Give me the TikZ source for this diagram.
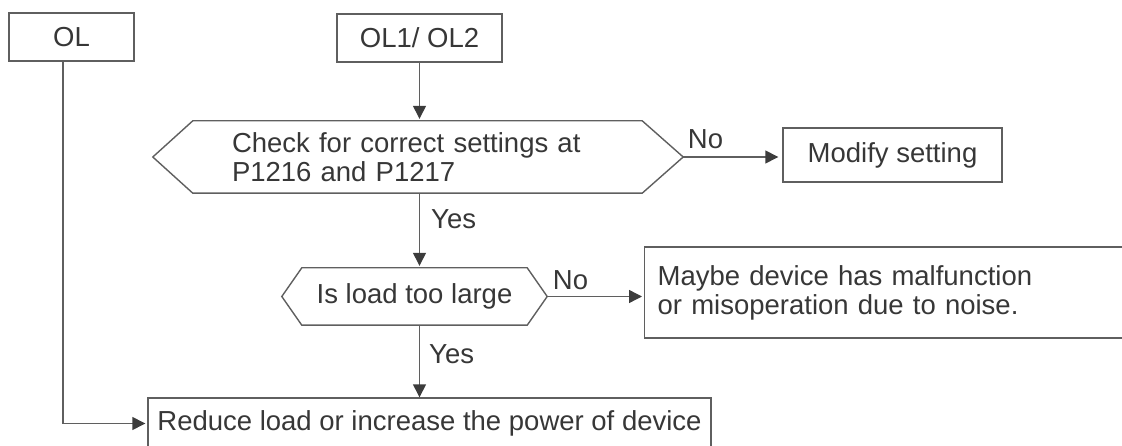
\documentclass[tikz,border=0pt]{standalone}
\usepackage{fontspec}
\setmainfont{Liberation Sans}
\usetikzlibrary{arrows.meta}
\definecolor{lncol}{RGB}{95,95,95}
\definecolor{tipcol}{RGB}{60,60,60}
\definecolor{txtcol}{RGB}{55,55,55}
\begin{document}
\begin{tikzpicture}[x=1pt,y=-1pt,
  every node/.style={font=\fontsize{27.5}{29}\selectfont, text=txtcol},
  boxline/.style={draw=lncol, line width=1.4pt},
  procbox/.style={boxline, rectangle, inner sep=0pt},
  hexbody/.style={rectangle, inner sep=0pt},
  conn/.style={draw=lncol, line width=1.4pt, -{Triangle[length=13pt,width=13pt,fill=tipcol,color=tipcol]}},
  lbl/.style={inner sep=0pt, anchor=base west}
]
\useasboundingbox (0,0) rectangle (1122,446);
\clip (0,0) rectangle (1122,446);

% nodes
\node[procbox, minimum width=125pt, minimum height=48pt] (ol) at (71.5,37) {OL\hspace{17pt}};
\node[procbox, minimum width=165pt, minimum height=48pt] (ol12) at (419.5,38) {OL1/ OL2};

\node[hexbody, minimum width=449pt, minimum height=72pt, text width=371pt, align=left] (chk) at (417.5,157)
  {Check for correct settings at\\P1216 and P1217};
\draw[boxline] (chk.north west) -- (chk.north east) -- ([xshift=41pt]chk.east) -- (chk.south east)
  -- (chk.south west) -- ([xshift=-40pt]chk.west) -- cycle;
\coordinate (chkR) at ([xshift=41pt]chk.east);

\node[procbox, minimum width=219pt, minimum height=54pt] (mod) at (892.5,155) {Modify setting};

\node[hexbody, minimum width=225pt, minimum height=57pt] (load) at (414.5,296.5) {Is load too large};
\draw[boxline] (load.north west) -- (load.north east) -- ([xshift=20pt]load.east) -- (load.south east)
  -- (load.south west) -- ([xshift=-20pt]load.west) -- cycle;
\coordinate (loadR) at ([xshift=20pt]load.east);

\node[procbox, anchor=west, minimum height=91pt, text width=470pt, inner xsep=13pt, align=left] (maybe) at (644,292.5)
  {Maybe device has malfunction\\or misoperation due to noise.};

\node[procbox, minimum width=563pt, minimum height=51pt] (red) at (429.5,423.5)
  {Reduce load or increase the power of device};

% connectors
\draw[conn, shorten >=2pt] (ol12.south) -- (ol12.south |- chk.north);
\draw[conn, shorten >=4pt] (chkR) -- node[lbl, pos=0, xshift=4pt, yshift=8pt] {No} (chkR -| mod.west);
\draw[conn, shorten >=2pt] (ol12.south |- chk.south) -- node[lbl, pos=0, xshift=11pt, yshift=-35pt] {Yes} (ol12.south |- load.north);
\draw[conn, shorten >=2pt] (loadR) -- node[lbl, pos=0, xshift=5pt, yshift=7pt] {No} (loadR -| maybe.west);
\draw[conn] (ol12.south |- load.south) -- node[lbl, pos=0, xshift=9pt, yshift=-38pt] {Yes} (ol12.south |- red.north);
\draw[conn, shorten >=2pt] ([xshift=-8.5pt]ol.south) |- (red.west);
\end{tikzpicture}
\end{document}
